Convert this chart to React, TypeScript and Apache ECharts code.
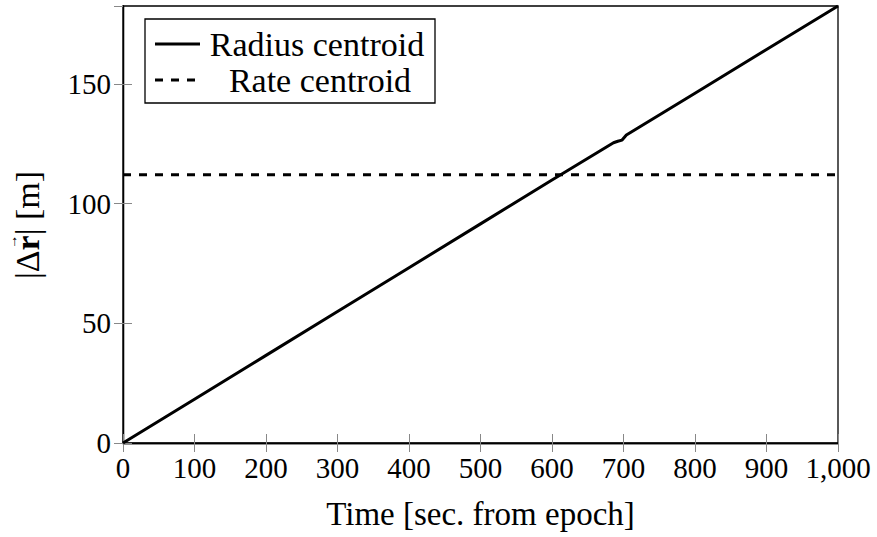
import React, { useEffect, useRef } from "react";
import * as echarts from "echarts";

const radiusTime = [0, 100, 200, 300, 400, 500, 600, 686, 692, 698, 704, 800, 900, 1000];
const radiusValues = [0, 18.3, 36.6, 54.9, 73.2, 91.5, 109.8, 125.4, 126.0, 126.5, 128.6, 146.1, 164.3, 182.5];
const rateTime = [0, 1000];
const rateValues = [112, 112];
const xTicks = [0, 100, 200, 300, 400, 500, 600, 700, 800, 900, 1000];
const yTicks = [0, 50, 100, 150];
const seriesNames = ["Radius centroid", "Rate centroid"];

const FONT = "'Liberation Serif', 'Times New Roman', serif";
const FS = 29;
const NAME_FS = 33;
const LEG_FS = 34;

function measure(text: string, bold = false, size = FS): number {
  const c = document.createElement("canvas").getContext("2d");
  if (!c) return text.length * size * 0.5;
  c.font = `${bold ? "bold " : ""}${size}px ${FONT}`;
  return c.measureText(text).width;
}

export default function App() {
  const ref = useRef<HTMLDivElement>(null);
  useEffect(() => {
    if (!ref.current) return;
    const chart = echarts.init(ref.current, undefined, { renderer: "svg" });
    const tickStyle = { show: true, inside: true, length: 9, lineStyle: { color: "#888", width: 1 } };
    const fmtX = (v: number) => (xTicks.includes(v) ? v.toLocaleString("en-US") : "");

    const yFS = 34;
    const p1 = "|Δ";
    const p2 = "r";
    const p3 = "| [m]";
    const w1 = measure(p1, false, yFS);
    const w2 = measure(p2, true, yFS);
    const w3 = measure(p3, false, yFS);
    const total = w1 + w2 + w3;
    const x0 = -total / 2;
    const tStyle = { fontFamily: FONT, fontSize: yFS, fill: "#000", textVerticalAlign: "middle", verticalAlign: "middle" };
    const lText = { fontFamily: FONT, fontSize: LEG_FS, fill: "#000", textAlign: "center", align: "center", verticalAlign: "middle", textVerticalAlign: "middle" };

    chart.setOption({
      animation: false,
      backgroundColor: "#fff",
      textStyle: { fontFamily: FONT },
      grid: { left: 123, right: 39, top: 6, bottom: 94, show: true, borderColor: "#000", borderWidth: 1.3 },
      xAxis: [
        {
          type: "value",
          min: 0,
          max: 1000,
          interval: 100,
          name: "Time [sec. from epoch]",
          nameLocation: "middle",
          nameGap: 54,
          nameTextStyle: { fontFamily: FONT, fontSize: NAME_FS, color: "#000" },
          axisLine: { show: true, lineStyle: { color: "#000", width: 1.3 } },
          axisTick: tickStyle,
          axisLabel: { fontFamily: FONT, fontSize: FS, color: "#000", margin: 10, formatter: fmtX },
          splitLine: { show: false },
        },
        {
          type: "value",
          position: "top",
          min: 0,
          max: 1000,
          interval: 100,
          axisLine: { show: true, lineStyle: { color: "#000", width: 1.3 } },
          axisTick: tickStyle,
          axisLabel: { show: false },
          splitLine: { show: false },
        },
      ],
      yAxis: [
        {
          type: "value",
          min: 0,
          max: 182.5,
          interval: 50,
          axisLine: { show: true, lineStyle: { color: "#000", width: 1.3 } },
          axisTick: tickStyle,
          axisLabel: {
            fontFamily: FONT,
            fontSize: FS,
            color: "#000",
            margin: 12,
            showMaxLabel: false,
            formatter: (v: number) => (yTicks.includes(v) ? String(v) : ""),
          },
          splitLine: { show: false },
        },
        {
          type: "value",
          position: "right",
          min: 0,
          max: 182.5,
          interval: 50,
          axisLine: { show: true, lineStyle: { color: "#000", width: 1.3 } },
          axisTick: tickStyle,
          axisLabel: { show: false },
          splitLine: { show: false },
        },
      ],
      graphic: [
        {
          type: "group",
          x: 27,
          y: 225,
          rotation: Math.PI / 2,
          children: [
            { type: "text", x: x0, y: 0, style: { ...tStyle, text: p1 } },
            { type: "text", x: x0 + w1, y: 0, style: { ...tStyle, text: p2, fontWeight: "bold" } },
            {
              type: "text",
              x: x0 + w1 + w2 / 2 + 1,
              y: -15,
              style: { ...tStyle, text: "→", fontSize: 14, textAlign: "center", align: "center" },
            },
            { type: "text", x: x0 + w1 + w2, y: 0, style: { ...tStyle, text: p3 } },
          ],
        },
        {
          type: "group",
          x: 145,
          y: 19,
          z: 100,
          children: [
            {
              type: "rect",
              shape: { x: 0, y: 0, width: 290, height: 84 },
              style: { fill: "#fff", stroke: "#000", lineWidth: 1.3 },
            },
            {
              type: "line",
              shape: { x1: 10, y1: 25, x2: 55, y2: 25 },
              style: { stroke: "#000", lineWidth: 3 },
            },
            {
              type: "line",
              shape: { x1: 10, y1: 61, x2: 55, y2: 61 },
              style: { stroke: "#000", lineWidth: 3, lineDash: [8, 8] },
            },
            { type: "text", x: 172, y: 25, style: { ...lText, text: seriesNames[0] } },
            { type: "text", x: 175, y: 61, style: { ...lText, text: seriesNames[1] } },
          ],
        },
      ],
      series: [
        {
          name: seriesNames[0],
          type: "line",
          data: radiusTime.map((t, i) => [t, radiusValues[i]]),
          showSymbol: false,
          symbol: "none",
          lineStyle: { color: "#000", width: 3 },
          itemStyle: { color: "#000" },
        },
        {
          name: seriesNames[1],
          type: "line",
          data: rateTime.map((t, i) => [t, rateValues[i]]),
          showSymbol: false,
          symbol: "none",
          lineStyle: { color: "#000", width: 3, type: [8, 8] },
          itemStyle: { color: "#000" },
        },
      ],
    });
    return () => chart.dispose();
  }, []);
  return <div ref={ref} style={{ width: 877, height: 537, position: "absolute", left: 0, top: 0 }} />;
}
